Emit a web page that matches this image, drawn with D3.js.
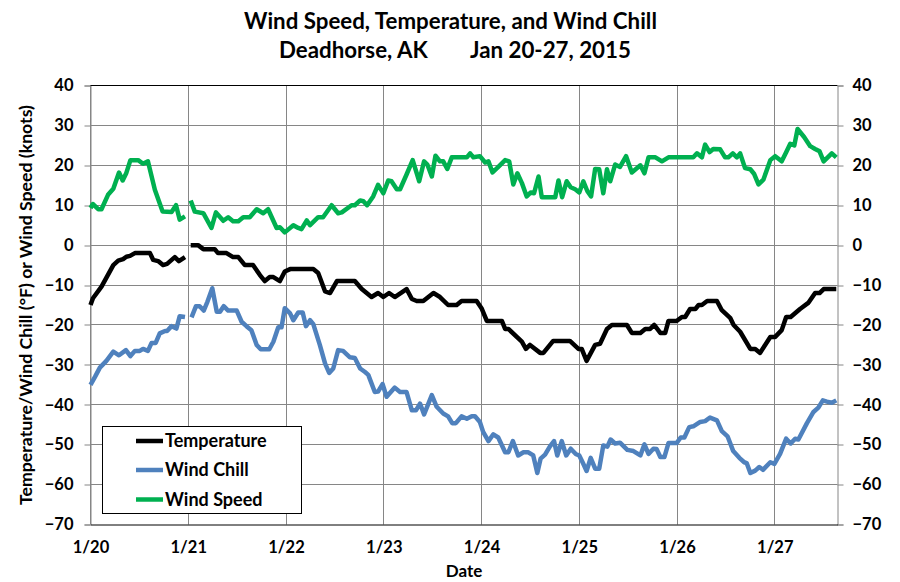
<!DOCTYPE html>
<html><head><meta charset="utf-8">
<script src="https://cdn.jsdelivr.net/npm/d3@7"></script>
<style>
body{margin:0;background:#fff;}
svg{display:block;}
text{font-family:Lato,"Open Sans",sans-serif;font-weight:bold;fill:#000;}
</style></head><body>
<svg id="chart" width="900" height="582"></svg>
<script>
const titleLine1 = "Wind Speed, Temperature, and Wind Chill";
const titleLocation = "Deadhorse, AK";
const titleDates = "Jan 20-27, 2015";
const yAxisTitle = "Temperature/Wind Chill (°F) or Wind Speed (knots)";
const xAxisTitle = "Date";
const dayLabels = ["1/20","1/21","1/22","1/23","1/24","1/25","1/26","1/27"];
const dayHours = [0,24,48,72,96,120,144,168];
const yTicks = [40,30,20,10,0,-10,-20,-30,-40,-50,-60,-70];
const seriesNames = ["Temperature","Wind Chill","Wind Speed"];
const seriesColors = ["#000000","#4F81BD","#00B050"];

// [hours since Jan 20 00:00, value]
const temperature = [
[0,-15],[0.6,-13.3],[2.7,-10.4],[5.6,-5],[6.8,-3.9],[8,-3.5],[8.8,-2.9],[9.7,-2.7],[10.9,-2],[14.6,-2],[15.4,-3.7],[16.6,-4],[17.8,-5],[18.8,-4.7],[20.7,-3],[21.7,-4],[23.2,-3],
[24,null],
[24.6,0],[26.4,0],[27.7,-1],[30.5,-1],[31.3,-2],[33.4,-2],[35,-3],[36.3,-3],[37.9,-5],[39.9,-5],[41.6,-7.5],[42.8,-9],[44,-8],[44.9,-8],[46.5,-9],[47.7,-6.6],[49,-6],[54.7,-6],[55.9,-7],[57.6,-11.6],[58.8,-12],[60.5,-9],[64.9,-9],[66.6,-11],[69,-13],[70.6,-12],[71.9,-13],[73.3,-12],[74.7,-13],[77.6,-11],[78.9,-13.5],[80.1,-14],[81.7,-14],[84.2,-12],[85.8,-13],[87.8,-15],[89.9,-15],[91.1,-14],[94.8,-14],[96,-15.8],[97.3,-19],[101,-19],[101.8,-21],[102.6,-21],[105.9,-24.2],[106.9,-26],[107.9,-25],[110.4,-27],[111.2,-27],[113.6,-24],[117.7,-24],[119.8,-26],[120.6,-26],[121.8,-29],[123.9,-25],[125.1,-24.7],[126.8,-21],[128,-20],[129.2,-20],[131.7,-20],[132.9,-22],[135,-22],[136.2,-21],[137.4,-21],[138.4,-20],[139.9,-22],[141.1,-22],[141.9,-19],[143.9,-19],[145.2,-18],[146,-18],[147.2,-16],[148.5,-16],[149.3,-15],[150.1,-15],[151.4,-14],[153.8,-14],[155,-16.3],[157.1,-18.3],[157.9,-20],[159.5,-21.7],[162,-26],[163.2,-26],[164.4,-27],[166.9,-23],[168.1,-23],[169.7,-21.3],[170.8,-18],[171.9,-18],[174.2,-16],[176.3,-14.4],[177.9,-12],[179,-12],[180,-11],[183.1,-11]
];

const windChill = [
[0,-35],[1.1,-33],[2.3,-30.7],[3.9,-29],[5.6,-26.7],[7,-27.6],[8.7,-26.3],[9.8,-27.8],[10.9,-26.5],[12.1,-26.5],[12.9,-26],[14.1,-26.5],[15,-24.5],[16,-24.5],[17,-22.1],[18.3,-21.5],[18.8,-21.5],[19.9,-20.3],[21.1,-20.9],[21.9,-17.8],[23.2,-18],
[24,null],
[24.8,-18.1],[25.9,-15.3],[26.8,-15.3],[27.8,-16.4],[28.7,-14.2],[29.9,-10.8],[31,-16.7],[31.8,-16.7],[32.7,-15.3],[33.8,-16.4],[35.9,-16.4],[37.1,-19.2],[38.3,-20.3],[39.5,-21.3],[40.8,-25],[41.8,-26.1],[43.9,-26.1],[44.9,-24.2],[46.1,-20.6],[46.9,-20.6],[47.7,-15.8],[49,-17.1],[49.8,-18.8],[51,-16.9],[52.1,-16.9],[52.9,-20.3],[53.9,-18.8],[54.7,-19.8],[56.3,-25],[57.6,-29.7],[58.6,-32],[59.6,-30.9],[60.8,-26.3],[62,-26.5],[63.7,-28.1],[64.9,-28.3],[66.2,-30.9],[67.4,-31.8],[68.2,-32.5],[69.8,-36.8],[70.6,-36.7],[71.7,-34.8],[72.7,-38],[74.7,-35.7],[76,-36.8],[77.6,-36.8],[78.9,-41.4],[79.9,-41.4],[80.9,-39.7],[81.9,-42.4],[83.8,-37.6],[85,-40.5],[86.6,-42.2],[87.8,-42.9],[88.8,-44.6],[89.7,-44.6],[91.1,-42.9],[92.4,-43.5],[93.6,-42.9],[94.4,-42.9],[95.6,-44.3],[96.4,-46.8],[97.7,-49.1],[98.9,-47.4],[100.1,-48.2],[101.8,-51.9],[102.6,-51.9],[103.7,-49.1],[105,-52.7],[106.3,-51.9],[107.5,-51.9],[108.7,-52.7],[109.7,-57.1],[110.5,-53.5],[111.6,-52.5],[112.8,-50.4],[113.8,-49.1],[114.6,-52.7],[115.7,-49.1],[116.8,-52.7],[117.9,-51],[119.2,-52.4],[120,-52.7],[120.9,-54.6],[121.8,-56.6],[122.8,-53.3],[123.9,-56],[124.9,-56],[125.9,-50.2],[126.9,-50.5],[127.7,-48.7],[128.8,-49.7],[130,-49.5],[131.8,-51.3],[133.3,-51.6],[135,-52.7],[136,-49.9],[137,-52.3],[138.2,-51],[139,-51.1],[139.9,-53.1],[140.9,-53.1],[141.9,-49.6],[143.9,-49.6],[144.9,-48.2],[145.8,-48.2],[147,-45.6],[148,-45.4],[149.7,-44.3],[150.9,-44.1],[152.1,-43.2],[153.8,-43.9],[155,-46.6],[156.4,-47.9],[157.8,-51.6],[159.3,-53.3],[160.5,-54.4],[161.1,-54.6],[162,-57.1],[163.2,-56.5],[164.2,-55.6],[165.1,-56.3],[166.9,-54.4],[167.9,-54.8],[169.3,-52.3],[170.8,-48.5],[171.9,-49.7],[173,-48.5],[173.8,-48.7],[175.9,-44.6],[177.5,-41.8],[178.7,-40.7],[179.8,-38.9],[180.8,-39.2],[182,-39.5],[183.1,-38.9]
];

const windSpeed = [
[0,9.3],[0.6,10.3],[1.9,9],[2.7,9],[4.3,12.6],[5.6,14.1],[7,18.2],[7.9,16.2],[8.8,18.1],[9.8,21.3],[11.7,21.3],[12.9,20.4],[14.1,21],[15.8,13.9],[17.7,8.4],[19.9,8.3],[21,10],[21.9,6.4],[23.2,7.2],
[24,null],
[24.6,11.2],[25.6,8.4],[27.7,8],[29.7,4.3],[30.8,8.2],[32.6,6.1],[33.8,7],[35,6],[36.3,6],[37.5,7],[39.1,7],[40.8,9],[42.4,8],[43.6,9],[45.7,4.3],[46.5,4.5],[47.7,3.2],[49.8,5],[51,4.3],[51.8,4],[53.1,6.2],[53.9,5],[55.9,7],[57.1,7],[59.2,10],[60.8,8],[61.7,8.2],[64.1,10],[64.9,10],[66.2,11.2],[67,11],[67.9,10],[69.4,12.2],[70.6,15.1],[71.9,13],[73.1,16.2],[73.9,16],[75.2,14],[76,14],[77.6,17.7],[79.1,21.3],[80.7,16],[81.9,21],[82.7,20.2],[83.8,17.2],[84.7,22.4],[85.8,21],[86.6,21],[87.6,19.1],[88.7,22],[92.4,22],[93.2,23],[94,22],[95.6,22.3],[96.9,20.7],[97.7,21],[98.7,18.2],[100.5,20],[101.8,21.3],[102.8,21],[103.8,15.2],[104.8,18],[105.9,15.6],[107.1,12.2],[108.1,13.2],[108.9,13],[110,17.2],[110.8,12],[114.1,12],[114.9,16.2],[115.8,12],[116.9,16],[117.9,14.5],[119,14],[120,13.2],[121,16],[122,13.5],[122.9,12.2],[123.9,19.1],[124.9,19],[125.9,13],[126.8,19],[127.6,16],[128.8,20.2],[130,19.6],[131.5,22.3],[132.9,18.2],[135,20],[136,18],[137,22],[138.7,22],[140.3,21],[141.9,22],[148,22],[148.9,23],[150.1,22],[150.9,25.2],[152,23.3],[152.9,24.1],[154.6,24],[155.8,22],[156.6,22],[157.7,23],[158.7,22],[159.5,23],[160.7,19.3],[162,19],[162.9,17.9],[164,15.2],[165.2,16.4],[166.9,21.3],[168.1,22.3],[169.7,21],[170.8,23.3],[171.8,25.4],[172.8,25],[173.6,29.1],[175.2,27.1],[176.7,24.8],[177.9,24.1],[179,23.5],[180,21],[182,23],[183.1,22]
];

const seriesData = [temperature, windChill, windSpeed];

const svg = d3.select("#chart");
const L = 90.5, R = 837.5, T = 85.5, B = 524.5;
const x = d3.scaleLinear().domain([0, 183.4]).range([L, R]);
const y = d3.scaleLinear().domain([-70, 40]).range([B, T]);
const snap = v => Math.floor(v) + 0.5;
const gridColor = "#868686";

// Horizontal gridlines
svg.append("g").selectAll("line").data(yTicks.filter(v => v > -70 && v < 40)).join("line")
  .attr("x1", L).attr("x2", R).attr("y1", d => snap(y(d))).attr("y2", d => snap(y(d)))
  .attr("stroke", gridColor).attr("stroke-width", 1);
// Vertical gridlines
svg.append("g").selectAll("line").data(dayHours).join("line")
  .attr("x1", d => snap(x(d))).attr("x2", d => snap(x(d))).attr("y1", T).attr("y2", B)
  .attr("stroke", gridColor).attr("stroke-width", 1);

// Left axis
const yL = svg.append("g").attr("transform", `translate(${L},0)`)
  .call(d3.axisLeft(y).tickValues(yTicks).tickSize(6).tickPadding(11).tickFormat(d3.format("d")));
// Right axis
const yR = svg.append("g").attr("transform", `translate(${R},0)`)
  .call(d3.axisRight(y).tickValues(yTicks).tickSize(6).tickPadding(9).tickFormat(d3.format("d")));
[yL, yR].forEach(g => {
  g.select(".domain").attr("stroke", gridColor);
  g.selectAll(".tick line").attr("stroke", gridColor).attr("transform", d => `translate(0,${snap(y(d)) - y(d)})`);
  g.selectAll("text").style("font-size", "16.5px").attr("fill", "#000");
});
yR.selectAll("text").attr("text-anchor", "start");

// Top border & bottom axis (black)
svg.append("line").attr("x1", L).attr("x2", R).attr("y1", T).attr("y2", T).attr("stroke", "#000");
const xAx = svg.append("g").attr("transform", `translate(0,${B})`)
  .call(d3.axisBottom(x).tickValues(dayHours).tickSize(0).tickPadding(17).tickFormat((d, i) => dayLabels[i]));
xAx.select(".domain").attr("stroke", "#000");
xAx.selectAll("text").style("font-size", "16.5px").attr("fill", "#000");

// Lines
const line = d3.line().defined(d => d[1] !== null).x(d => x(d[0])).y(d => y(d[1]));
svg.append("g").selectAll("path").data(seriesData).join("path")
  .attr("d", line).attr("fill", "none")
  .attr("stroke", (d, i) => seriesColors[i]).attr("stroke-width", 4.5)
  .attr("stroke-linejoin", "round").attr("stroke-linecap", "butt");

// Titles
svg.append("text").attr("x", 450.5).attr("y", 29).attr("text-anchor", "middle").style("font-size", "22.3px").text(titleLine1);
svg.append("text").attr("x", 279).attr("y", 58).style("font-size", "22.3px").text(titleLocation);
svg.append("text").attr("x", 470).attr("y", 58).style("font-size", "22.3px").text(titleDates);
svg.append("text").attr("transform", `translate(32,${(T + B) / 2}) rotate(-90)`).attr("text-anchor", "middle").style("font-size", "17.7px").text(yAxisTitle);
svg.append("text").attr("x", (L + R) / 2).attr("y", 577).attr("text-anchor", "middle").style("font-size", "17px").text(xAxisTitle);

// Legend
const lg = svg.append("g");
lg.append("rect").attr("x", 102.5).attr("y", 426.5).attr("width", 199).attr("height", 87).attr("fill", "#fff").attr("stroke", "#000");
const rowY = [441, 470, 499.5];
const item = lg.selectAll("g.item").data(seriesNames).join("g").attr("class", "item")
  .attr("transform", (d, i) => `translate(0,${rowY[i]})`);
item.append("line").attr("x1", 136).attr("x2", 163).attr("stroke", (d, i) => seriesColors[i]).attr("stroke-width", 4.5);
item.append("text").attr("x", 165).attr("dy", "0.35em").style("font-size", "18px").text(d => d);
</script>
</body></html>
